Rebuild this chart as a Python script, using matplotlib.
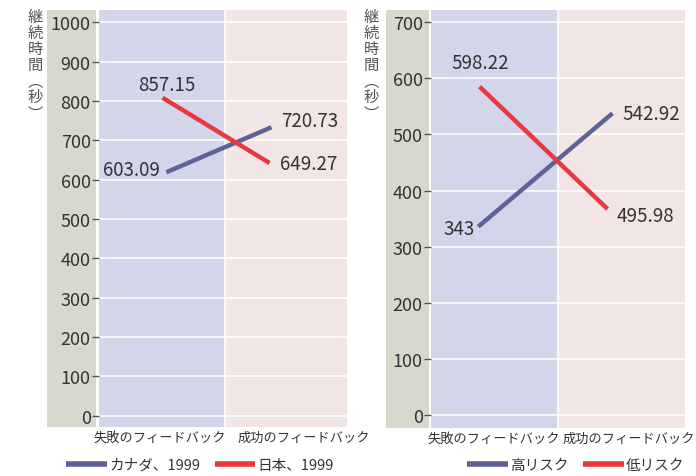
import matplotlib
matplotlib.use('Agg')
import matplotlib.pyplot as plt
from matplotlib.patches import Rectangle

plt.rcParams['font.family'] = ['Noto Sans CJK JP', 'DejaVu Sans']

# ---------------- data ----------------
categories = ['失敗のフィードバック', '成功のフィードバック']
y_label_chars = ['継', '続', '時', '間', '︵', '秒', '︶']

left_series = ['カナダ、1999', '日本、1999']
left_line_x = [[0.035, 0.87], [0.005, 0.855]]
left_line_y = [[618.7, 733.0], [808.0, 642.0]]
left_value_labels = [['603.09', '720.73'], ['857.15', '649.27']]
left_yticks = [0, 100, 200, 300, 400, 500, 600, 700, 800, 900, 1000]

right_series = ['高リスク', '低リスク']
right_line_x = [[-0.128, 0.932], [-0.117, 0.893]]
right_line_y = [[335.5, 537.8], [585.3, 367.0]]
right_value_labels = [['343', '542.92'], ['598.22', '495.98']]
right_yticks = [0, 100, 200, 300, 400, 500, 600, 700]

# ---------------- style ----------------
W, H = 696, 477
C_BLUE_LINE = '#5f6299'
C_RED_LINE = '#e8383f'
C_BAND1 = '#d3d5ea'
C_BAND2 = '#f1e6e5'
C_GRAY = '#d8d8cc'
C_TEXT = '#333333'
series_colors = [C_BLUE_LINE, C_RED_LINE]

fig = plt.figure(figsize=(W / 100, H / 100), dpi=100)


def px_rect(x0, y0, x1, y1):
    # pixel box (top-left origin) -> figure fraction [l, b, w, h]
    return [x0 / W, 1 - y1 / H, (x1 - x0) / W, (y1 - y0) / H]


def make_panel(axbox, graybox, xlim, ylim, yticks, series, lx, ly, vlabels,
               label_style, cat_pos, ylabel_x, legend_center):
    ax = fig.add_axes(px_rect(*axbox))
    # gray strip behind tick labels
    gl, gb, gw, gh = px_rect(*graybox)
    fig.patches.append(Rectangle((gl, gb), gw, gh, transform=fig.transFigure,
                                 facecolor=C_GRAY, edgecolor='none', zorder=-5))
    ax.set_xlim(*xlim)
    ax.set_ylim(*ylim)
    ax.axvspan(-0.5, 0.5, color=C_BAND1, zorder=0, lw=0)
    ax.axvspan(0.5, 1.5, color=C_BAND2, zorder=0, lw=0)
    for yt in yticks:
        ax.axhline(yt, color='white', lw=1.2, zorder=1)
    ax.axvline(0.5, color='white', lw=1.2, zorder=1)
    for s in ax.spines.values():
        s.set_visible(False)
    ax.set_yticks(yticks)
    ax.set_yticklabels([str(v) for v in yticks])
    ax.tick_params(axis='y', length=5, width=1, color='#555555', pad=1,
                   labelsize=13, labelcolor=C_TEXT)
    ax.set_xticks(cat_pos)
    ax.set_xticklabels(categories)
    ax.tick_params(axis='x', length=0, pad=3, labelsize=9.5, labelcolor=C_TEXT)

    handles = []
    for i, name in enumerate(series):
        h, = ax.plot(lx[i], ly[i], color=series_colors[i], lw=3.2,
                     solid_capstyle='butt', zorder=3, label=name)
        handles.append(h)
        for j in range(2):
            dx, dy, ha = label_style[i][j]
            ax.annotate(vlabels[i][j], (lx[i][j], ly[i][j]),
                        xytext=(dx, dy), textcoords='offset pixels',
                        ha=ha, va='center', fontsize=13.5, color=C_TEXT,
                        zorder=4)
    # vertical y label
    fig.text(ylabel_x / W, 1 - 9 / H, '\n'.join(y_label_chars),
             ha='center', va='top', fontsize=11, linespacing=0.93,
             color='#555555')
    leg = fig.legend(handles=handles, loc='center',
                     bbox_to_anchor=(legend_center[0] / W, 1 - legend_center[1] / H),
                     bbox_transform=fig.transFigure, ncol=2, frameon=False,
                     fontsize=10.5, handlelength=2.8, handletextpad=0.15,
                     columnspacing=1.0, borderpad=0)
    for lh in leg.get_lines():
        lh.set_linewidth(4)
    for t in leg.get_texts():
        t.set_color(C_TEXT)
    return ax


# label offsets (dx, dy in pixels, ha)
left_label_style = [[(-6, 3, 'right'), (10, 7, 'left')],
                    [(4, 13, 'center'), (10, 0, 'left')]]
right_label_style = [[(-3, -2, 'right'), (10, 0, 'left')],
                     [(1, 24, 'center'), (9, -6, 'left')]]

make_panel((99, 11, 347, 428), (47, 11, 96, 428), (-0.5, 1.47), (-28.7, 1031),
           left_yticks, left_series, left_line_x, left_line_y, left_value_labels,
           left_label_style, [-0.018, 1.127], 35, (200, 466))

make_panel((431, 11, 684.5, 428.5), (385.7, 11, 429, 428.5), (-0.5, 1.5), (-22.5, 722),
           right_yticks, right_series, right_line_x, right_line_y, right_value_labels,
           right_label_style, [-0.007, 1.06], 371.5, (575.5, 466))

fig.savefig('out.png', dpi=100)
